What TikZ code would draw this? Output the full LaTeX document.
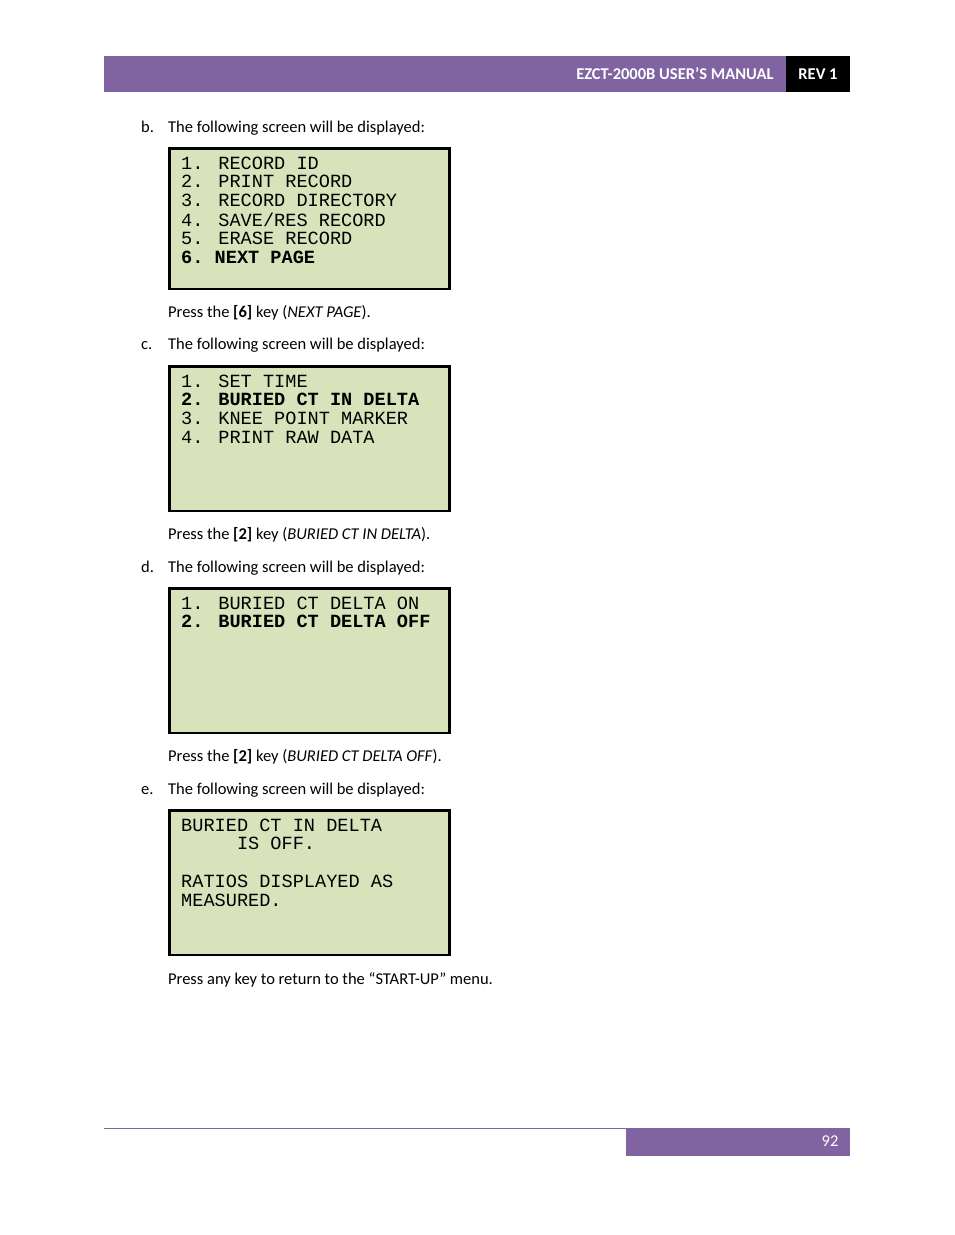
\documentclass[tikz,border=0pt]{standalone}
\usepackage{fontspec}
\setmainfont{Carlito}
\newfontfamily\lcd{Liberation Mono}
\definecolor{hdr}{HTML}{8064A2}
\definecolor{lcdbg}{HTML}{D8E3BC}
\begin{document}
\begin{tikzpicture}[x=1pt,y=-1pt,
  body/.style={anchor=base west,inner sep=0,font=\fontsize{16.5}{20}\selectfont},
  scr/.style={draw=black,line width=2.8pt,fill=lcdbg},
  lcdt/.style={anchor=west,inner sep=0,font=\lcd\fontsize{18.6}{19}\selectfont}]
\useasboundingbox (0,0) rectangle (954,1235);
% header
\fill[hdr] (104,56) rectangle (786,92);
\fill[black] (786,56) rectangle (850,92);
\node[anchor=east,text=white,font=\bfseries\fontsize{16.5}{20}\selectfont] (ht) at (777,74) {EZCT-2000B USER’S MANUAL};
\node[text=white,font=\bfseries\fontsize{16.5}{20}\selectfont] (rev) at (818,74) {REV 1};
% footer
\draw[hdr,line width=0.8pt] (104,1128.5) -- (626,1128.5);
\fill[hdr] (626,1128) rectangle (850,1156);
\node[anchor=east,text=white,font=\fontsize{16.5}{20}\selectfont] (pg) at (842,1141) {92};
% b
\node[body] (lb) at (141,132) {b.};
\node[body] (tb) at (168,132) {The following screen will be displayed:};
\draw[scr] (169.5,148.5) rectangle (449.5,289);
\foreach \t [count=\i] in {1. RECORD ID,2. PRINT RECORD,3. RECORD DIRECTORY,4. SAVE/RES RECORD,5. ERASE RECORD}
  \node[lcdt] at (181,{163+(\i-1)*18.8}) {\t};
\node[lcdt,font=\lcd\bfseries\fontsize{18.6}{19}\selectfont] at (181,257) {6.\ NEXT PAGE};
\node[body] (pb) at (168,317) {Press the \textbf{[6]} key (\textit{NEXT PAGE}).};
% c
\node[body] (lc) at (141,349) {c.};
\node[body] (tc) at (168,349) {The following screen will be displayed:};
\draw[scr] (169.5,366.5) rectangle (449.5,511);
\node[lcdt] at (181,381) {1. SET TIME};
\node[lcdt,font=\lcd\bfseries\fontsize{18.6}{19}\selectfont] at (181,399.8) {2. BURIED CT IN DELTA};
\node[lcdt] at (181,418.6) {3. KNEE POINT MARKER};
\node[lcdt] at (181,437.4) {4. PRINT RAW DATA};
\node[body] (pc) at (168,539) {Press the \textbf{[2]} key (\textit{BURIED CT IN DELTA}).};
% d
\node[body] (ld) at (141,572) {d.};
\node[body] (td) at (168,572) {The following screen will be displayed:};
\draw[scr] (169.5,588.5) rectangle (449.5,733);
\node[lcdt] at (181,603) {1. BURIED CT DELTA ON};
\node[lcdt,font=\lcd\bfseries\fontsize{18.6}{19}\selectfont] at (181,621.8) {2. BURIED CT DELTA OFF};
\node[body] (pd) at (168,761) {Press the \textbf{[2]} key (\textit{BURIED CT DELTA OFF}).};
% e
\node[body] (le) at (141,794) {e.};
\node[body] (te) at (168,794) {The following screen will be displayed:};
\draw[scr] (169.5,810.5) rectangle (449.5,955);
\node[lcdt] at (181,825) {BURIED CT IN DELTA};
\node[lcdt] at (181,843.8) {\ \ \ \ \ IS OFF.};
\node[lcdt] at (181,881.4) {RATIOS DISPLAYED AS};
\node[lcdt] at (181,900.2) {MEASURED.};
\node[body] (pe) at (168,984) {Press any key to return to the “START-UP” menu.};
\end{tikzpicture}
\end{document}
